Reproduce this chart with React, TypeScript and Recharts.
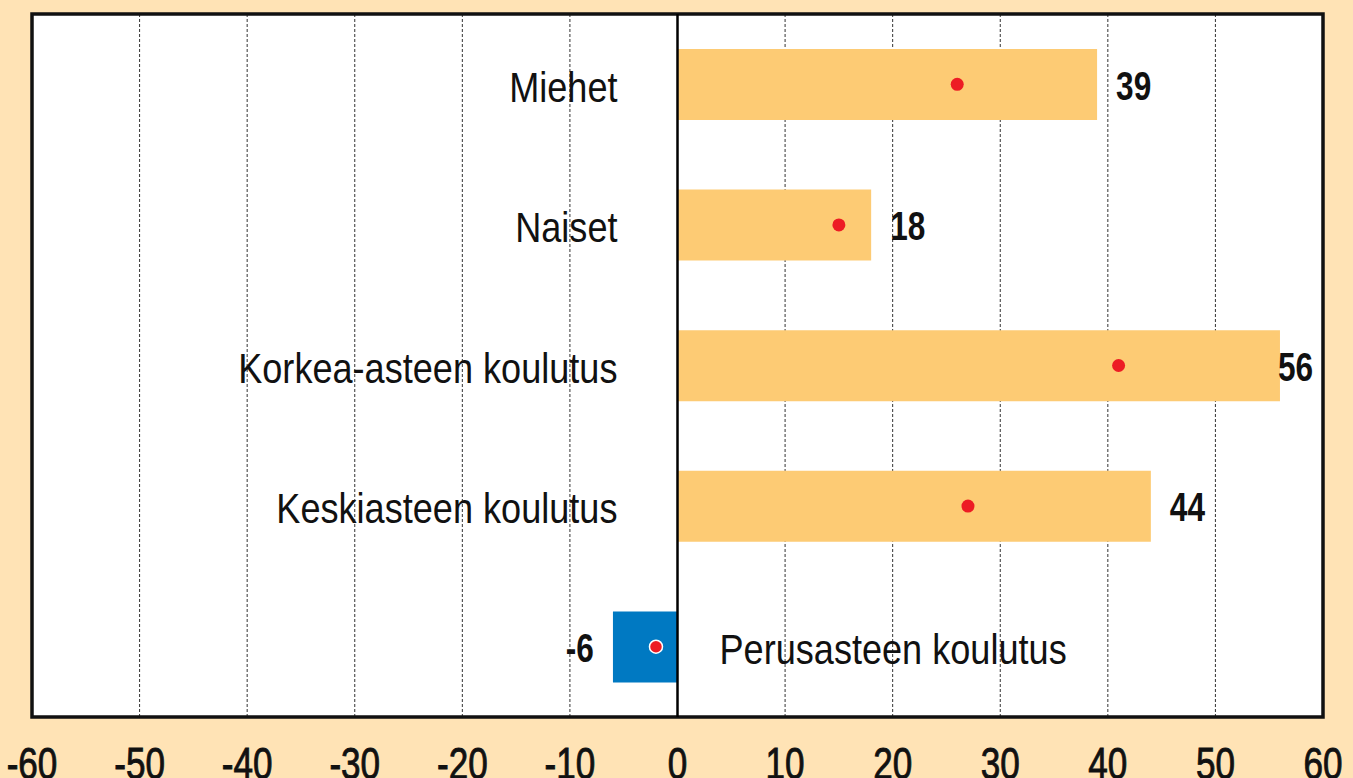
import { ComposedChart, Bar, Line, XAxis, YAxis, CartesianGrid, ReferenceLine, ReferenceArea, LabelList, Cell } from 'recharts';

const categories = ['Miehet', 'Naiset', 'Korkea-asteen koulutus', 'Keskiasteen koulutus', 'Perusasteen koulutus'];
const barValues = [39, 18, 56, 44, -6];
const dotValues = [26, 15, 41, 27, -2];
const xTicks = [-60, -50, -40, -30, -20, -10, 0, 10, 20, 30, 40, 50, 60];

const W = 1353;
const H = 778;
// no condensed font installed, so Liberation Sans is squeezed horizontally
const FONT = '"Liberation Sans", Arial, sans-serif';
const BG = '#FFE3B5';
const ORANGE = '#FDCB74';
const BLUE = '#0079C2';
const RED = '#ED1C24';
const PLOT_RIGHT = W - 30;

const data = categories.map((name, i) => ({
  name,
  value: barValues[i],
  dot: dotValues[i],
}));

const Narrow = ({ x, y, sx, anchor, size, bold, children }: any) => (
  <text
    transform={`translate(${x},${y}) scale(${sx},1)`}
    textAnchor={anchor}
    fontFamily={FONT}
    fontSize={size}
    fontWeight={bold ? 'bold' : 'normal'}
    fill="#111"
  >
    {children}
  </text>
);

// category name sits on the opposite side of the zero line
const NameLabel = (props: any) => {
  const { x, y, width, height, index } = props;
  const left = Math.min(x, x + width);
  const right = Math.max(x, x + width);
  const cy = y + height / 2;
  const negative = barValues[index] < 0;
  return (
    <Narrow x={negative ? right + 42 : left - 60} y={cy + 17} sx={0.84} anchor={negative ? 'start' : 'end'} size={43}>
      {categories[index]}
    </Narrow>
  );
};

const ValueLabel = (props: any) => {
  const { x, y, width, height, index } = props;
  const left = Math.min(x, x + width);
  const right = Math.max(x, x + width);
  const cy = y + height / 2;
  const v = barValues[index];
  if (v < 0) {
    return (
      <Narrow x={left - 19} y={cy + 15} sx={0.79} anchor="end" size={40} bold>
        {v}
      </Narrow>
    );
  }
  const start = Math.min(right + 19, PLOT_RIGHT - 45);
  return (
    <Narrow x={start} y={cy + 15} sx={0.79} anchor="start" size={40} bold>
      {v}
    </Narrow>
  );
};

const Dot = (props: any) => {
  const { cx, cy, index } = props;
  if (cx == null || cy == null) return null;
  const onBlue = barValues[index] < 0;
  return (
    <circle
      key={`dot-${index}`}
      cx={cx}
      cy={cy}
      r={6.5}
      fill={RED}
      stroke={onBlue ? '#fff' : 'none'}
      strokeWidth={1.5}
    />
  );
};

const Tick = (props: any) => {
  const { x, payload } = props;
  return (
    <text
      transform={`translate(${x},779) scale(0.78,1)`}
      textAnchor="middle"
      fontFamily={FONT}
      fontSize={45}
      fill="#111"
      stroke="#111"
      strokeWidth={0.9}
    >
      {payload.value}
    </text>
  );
};

export default function App() {
  return (
    <div style={{ position: 'absolute', left: 0, top: 0, width: W, height: H, background: BG, overflow: 'hidden' }}>
      <ComposedChart
        width={W}
        height={H}
        data={data}
        layout="vertical"
        margin={{ top: 14, right: 30, bottom: 0, left: 32 }}
      >
        <CartesianGrid
          horizontal={false}
          strokeDasharray="3 2"
          stroke="#333"
          strokeWidth={1}
          fill="#fff"
          fillOpacity={1}
        />
        <XAxis
          type="number"
          domain={[-60, 60]}
          ticks={xTicks}
          axisLine={false}
          tickLine={false}
          height={61}
          tick={<Tick />}
          interval={0}
        />
        <YAxis type="category" dataKey="name" hide />
        <Bar dataKey="value" barSize={71} isAnimationActive={false}>
          {data.map((d, i) => (
            <Cell key={`cell-${i}`} fill={d.value < 0 ? BLUE : ORANGE} />
          ))}
          <LabelList dataKey="name" content={<NameLabel />} />
          <LabelList dataKey="value" content={<ValueLabel />} />
        </Bar>
        <Line
          dataKey="dot"
          stroke="none"
          dot={<Dot />}
          activeDot={false}
          isAnimationActive={false}
          legendType="none"
        />
        <ReferenceLine x={0} stroke="#000" strokeWidth={2.5} />
        <ReferenceArea x1={-60} x2={60} fill="none" stroke="#111" strokeWidth={3.5} ifOverflow="visible" />
      </ComposedChart>
    </div>
  );
}
